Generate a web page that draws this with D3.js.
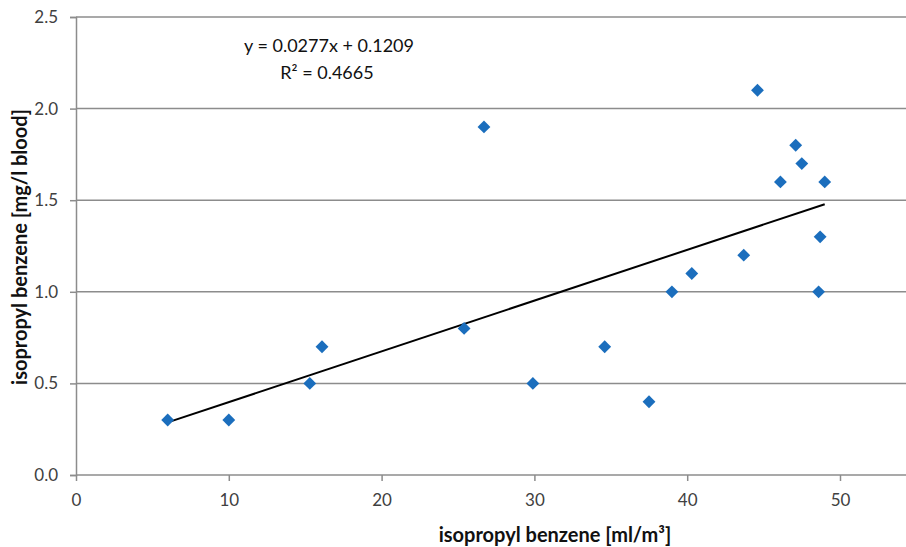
<!DOCTYPE html>
<html>
<head>
<meta charset="utf-8">
<script src="https://cdn.jsdelivr.net/npm/d3@7"></script>
<style>
  body { margin: 0; background: #fff; }
  svg text { font-family: Lato, "Open Sans", sans-serif; }
</style>
</head>
<body>
<div id="chart"></div>
<script>
var xValues = [6, 10, 15.3, 16.1, 25.4, 26.7, 29.9, 34.6, 37.5, 39, 40.3, 43.7, 44.6, 46.1, 47.1, 47.5, 48.6, 48.7, 49];
var yValues = [0.3, 0.3, 0.5, 0.7, 0.8, 1.9, 0.5, 0.7, 0.4, 1.0, 1.1, 1.2, 2.1, 1.6, 1.8, 1.7, 1.0, 1.3, 1.6];
var xTicks = [0, 10, 20, 30, 40, 50];
var yTicks = [0, 0.5, 1.0, 1.5, 2.0, 2.5];
var trendSlope = 0.0277;
var trendIntercept = 0.1209;
var rSquared = 0.4665;

var width = 906, height = 547;
var margin = {top: 17, left: 76, bottom: 72};

var svg = d3.select('#chart')
  .append('svg')
  .attr('width', width)
  .attr('height', height);

var x = d3.scaleLinear().domain([0, 55]).range([margin.left, margin.left + 55 * 15.28]);
var y = d3.scaleLinear().domain([0, 2.5]).range([height - margin.bottom, margin.top]);

// horizontal gridlines
svg.append('g')
  .selectAll('line')
  .data(yTicks.slice(1))
  .enter()
  .append('line')
  .attr('x1', margin.left)
  .attr('x2', width)
  .attr('y1', function(d) { return y(d); })
  .attr('y2', function(d) { return y(d); })
  .style('stroke', '#8c8c8c')
  .style('stroke-width', 1.5);

// y axis
var yAxis = svg.append('g')
  .attr('transform', 'translate(' + margin.left + ',0)')
  .call(d3.axisLeft(y).tickValues(yTicks).tickFormat(d3.format('.1f')).tickSize(6).tickPadding(12));

// x axis
var xAxis = svg.append('g')
  .attr('transform', 'translate(0,' + y(0) + ')')
  .call(d3.axisBottom(x).tickValues(xTicks).tickSize(6).tickPadding(13));

[yAxis, xAxis].forEach(function(ax) {
  ax.select('.domain').style('stroke', '#8c8c8c').style('stroke-width', 1.5);
  ax.selectAll('.tick line').style('stroke', '#8c8c8c').style('stroke-width', 1.5);
  ax.selectAll('.tick text').style('font-size', '17px').style('fill', '#404040');
});
xAxis.select('.domain').attr('d', 'M' + margin.left + ',0H' + width);

// trend line across the data range
var xMin = d3.min(xValues), xMax = d3.max(xValues);
svg.append('line')
  .attr('x1', x(xMin))
  .attr('y1', y(trendSlope * xMin + trendIntercept))
  .attr('x2', x(xMax))
  .attr('y2', y(trendSlope * xMax + trendIntercept))
  .style('stroke', '#000')
  .style('stroke-width', 2);

// diamond markers
var diamond = d3.symbol().type(d3.symbolDiamond2).size(105);
svg.append('g')
  .selectAll('path')
  .data(xValues)
  .enter()
  .append('path')
  .attr('d', diamond)
  .attr('transform', function(d, i) { return 'translate(' + x(d) + ',' + y(yValues[i]) + ')'; })
  .style('fill', '#1b6ebd');

// equation
svg.append('text')
  .attr('x', 329)
  .attr('y', 52)
  .attr('text-anchor', 'middle')
  .style('font-size', '18px')
  .style('fill', '#111')
  .text('y = ' + trendSlope + 'x + ' + trendIntercept);

svg.append('text')
  .attr('x', 327)
  .attr('y', 79)
  .attr('text-anchor', 'middle')
  .style('font-size', '18px')
  .style('fill', '#111')
  .text('R² = ' + rSquared);

// axis titles
svg.append('text')
  .attr('x', 555)
  .attr('y', 542)
  .attr('text-anchor', 'middle')
  .style('font-size', '20px')
  .style('font-weight', 'bold')
  .style('fill', '#111')
  .text('isopropyl benzene [ml/m³]');

svg.append('text')
  .attr('transform', 'translate(27,' + 247 + ') rotate(-90)')
  .attr('text-anchor', 'middle')
  .style('font-size', '20px')
  .style('font-weight', 'bold')
  .style('fill', '#111')
  .text('isopropyl benzene [mg/l blood]');
</script>
</body>
</html>
